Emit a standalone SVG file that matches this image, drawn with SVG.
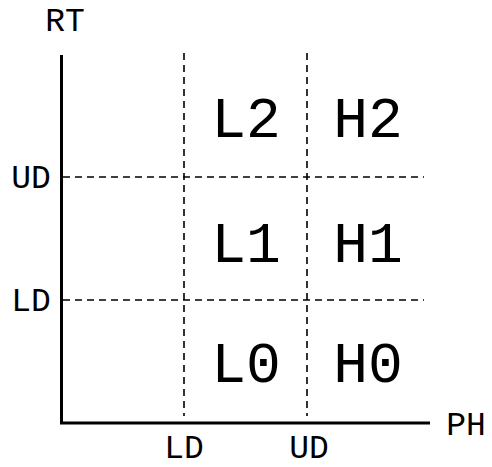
<svg xmlns="http://www.w3.org/2000/svg" width="492" height="467" viewBox="0 0 492 467">
  <style>
    .axis { stroke: #000; stroke-width: 3; fill: none; }
    .grid { stroke: #000; stroke-width: 1.6; stroke-dasharray: 7 5; fill: none; }
    .tick { font-family: "Liberation Mono", "DejaVu Sans Mono", monospace; font-size: 33px; fill: #000; text-anchor: middle; }
    .region { font-family: "Liberation Mono", "DejaVu Sans Mono", monospace; font-size: 58px; fill: #000; text-anchor: middle; }
  </style>
  <rect width="492" height="467" fill="#fff"/>

  <!-- grid lines and axes -->
  <g id="connectors">
    <line class="grid" x1="184" y1="53" x2="184" y2="416"/>
    <line class="grid" x1="307" y1="53" x2="307" y2="416"/>
    <line class="grid" x1="63" y1="177" x2="424" y2="177"/>
    <line class="grid" x1="63" y1="300" x2="424" y2="300"/>
    <line class="axis" x1="61.5" y1="55" x2="61.5" y2="423"/>
    <line class="axis" x1="60" y1="423" x2="430" y2="423"/>
  </g>

  <!-- axis labels -->
  <g id="label-rt"><text class="tick" x="65" y="31">RT</text></g>
  <g id="label-ph"><text class="tick" x="466" y="435">PH</text></g>
  <g id="tick-y-ud"><text class="tick" x="31" y="188">UD</text></g>
  <g id="tick-y-ld"><text class="tick" x="31" y="311">LD</text></g>
  <g id="tick-x-ld"><text class="tick" x="184" y="458">LD</text></g>
  <g id="tick-x-ud"><text class="tick" x="309" y="458">UD</text></g>

  <!-- regions -->
  <g id="region-l2"><text class="region" x="246" y="137">L2</text></g>
  <g id="region-h2"><text class="region" x="368" y="137">H2</text></g>
  <g id="region-l1"><text class="region" x="246" y="262">L1</text></g>
  <g id="region-h1"><text class="region" x="368" y="262">H1</text></g>
  <g id="region-l0"><text class="region" x="246" y="382">L0</text></g>
  <g id="region-h0"><text class="region" x="368" y="382">H0</text></g>
</svg>
